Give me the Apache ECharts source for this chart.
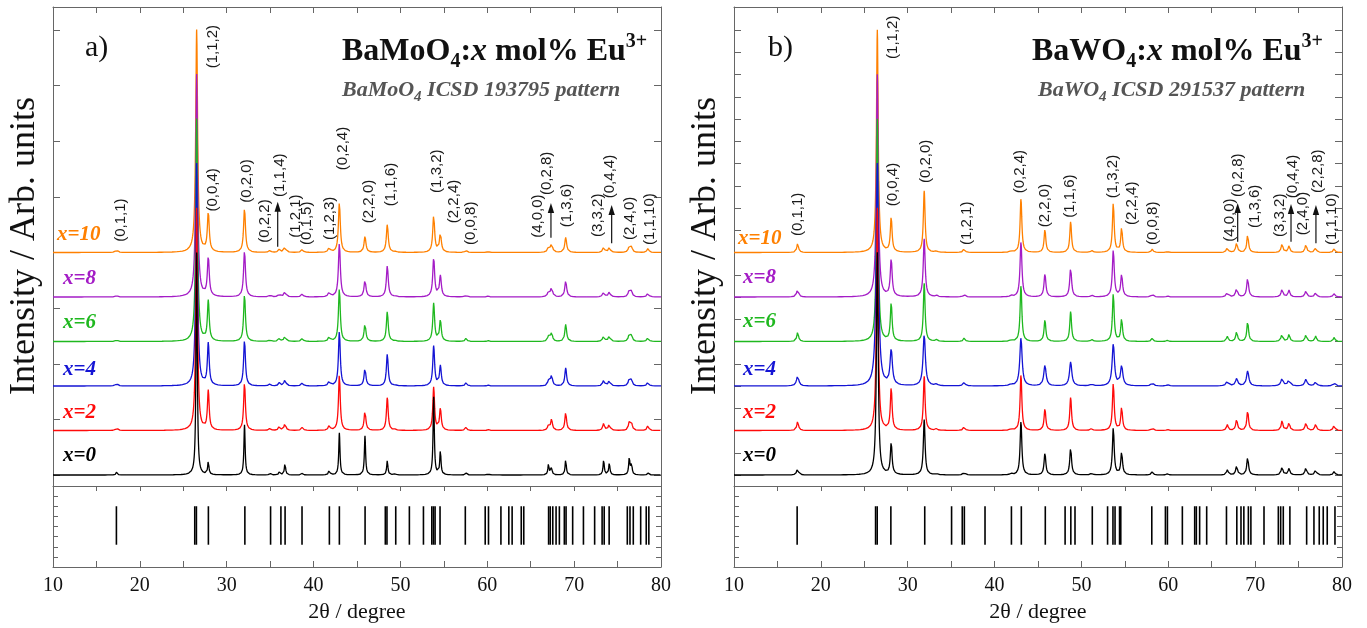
<!DOCTYPE html>
<html>
<head>
<meta charset="utf-8">
<script src="https://cdn.jsdelivr.net/npm/echarts@6/dist/echarts.min.js"></script>
<style>
  html, body { margin: 0; padding: 0; background: #ffffff; }
  #chart { width: 1367px; height: 628px; }
</style>
</head>
<body>
<div id="chart"></div>
<script>
// ---------- data ----------
const twoThetaMin = 10;
const twoThetaMax = 80;
const twoThetaTicks = [10, 20, 30, 40, 50, 60, 70, 80];

// samples, top trace first, with their vertical stacking offsets (Arb. units)
const samples = ['x=10', 'x=8', 'x=6', 'x=4', 'x=2', 'x=0'];
const sampleOffsets = [100, 80, 60, 40, 20, 0];

// BaMoO4:Eu3+ reflections (2θ, degree)
const moPeakPos = [17.33, 26.54, 27.88, 32.05, 34.98, 36.06, 36.71, 38.70, 41.81, 42.97, 45.92, 48.49, 49.40,
                   53.83, 54.60, 57.55, 60.10, 67.05, 67.40, 69.03, 73.40, 74.05, 76.35, 76.60, 78.50];
// relative peak intensities, (1,1,2) = 100
const moInt_x10 = [1.4, 100, 17.6, 19.8, 0.9, 1.4, 2.7, 1.4, 2.3, 22.5, 7.2, 12.6, 0.4, 16.7, 8.6, 0.9, 0.4, 2.3, 4.1, 6.8, 2.3, 2.3, 2.7, 2.3, 1.8];
const moInt_x8  = [0.7, 100, 17.6, 20.7, 0.9, 1.4, 2.7, 1.4, 2.3, 24.3, 7.7, 14.0, 0.4, 17.6, 9.5, 0.9, 0.4, 2.3, 4.5, 7.2, 2.3, 2.3, 3.2, 2.3, 1.8];
const moInt_x6  = [0.9, 100, 18.0, 21.2, 0.9, 1.4, 2.7, 1.4, 2.3, 23.9, 8.1, 13.5, 0.4, 17.1, 9.5, 1.4, 0.4, 2.3, 4.1, 7.7, 2.7, 2.7, 3.2, 2.7, 1.8];
const moInt_x4  = [1.4, 100, 18.9, 20.7, 0.9, 1.4, 3.0, 1.4, 2.3, 24.8, 8.1, 14.4, 0.4, 18.0, 9.0, 1.4, 0.4, 2.3, 5.0, 8.1, 2.7, 2.7, 3.2, 2.7, 1.8];
const moInt_x2  = [1.4, 100, 17.6, 21.6, 0.9, 1.8, 3.2, 1.4, 2.3, 25.2, 9.0, 14.9, 0.4, 19.4, 9.9, 1.4, 0.4, 2.3, 5.0, 8.1, 3.2, 3.2, 3.6, 3.2, 2.3];
const moInt_x0  = [1.4, 100, 6.1, 22.5, 0.9, 1.4, 5.4, 0.9, 2.5, 18.9, 17.6, 6.5, 0.9, 35.1, 11.0, 0.9, 0.9, 5.0, 3.2, 7.2, 6.8, 5.4, 7.7, 5.4, 0.9];
// peak widths (FWHM, degree) for each sample
const moFwhm = [0.26, 0.26, 0.25, 0.25, 0.24, 0.17];

// BaWO4:Eu3+ reflections (2θ, degree)
const wPeakPos = [17.33, 26.50, 28.10, 31.90, 33.30, 36.50, 41.90, 43.04, 45.80, 48.76, 51.17, 53.67, 54.63,
                  58.16, 59.90, 66.80, 67.87, 69.14, 73.10, 73.90, 75.85, 76.97, 79.10];
const wInt_x10 = [4.1, 100, 15.6, 27.7, 0.7, 1.8, 0.7, 24.3, 10.4, 13.8, 0.9, 22.3, 11.1, 1.5, 0.5, 2.4, 4.5, 8.2, 4.1, 3.0, 3.7, 2.3, 1.8];
const wInt_x8  = [3.7, 100, 16.7, 26.1, 0.7, 1.1, 0.7, 24.8, 10.4, 13.1, 0.9, 21.2, 10.0, 1.4, 0.5, 2.3, 4.1, 8.6, 3.6, 3.0, 2.8, 2.1, 1.5];
const wInt_x6  = [4.2, 100, 17.2, 26.1, 0.7, 1.5, 0.7, 25.2, 9.8, 13.5, 0.9, 21.6, 10.2, 1.4, 0.5, 2.3, 4.6, 9.1, 3.7, 3.2, 3.2, 2.4, 1.9];
const wInt_x4  = [4.5, 100, 15.8, 23.0, 0.7, 1.5, 0.7, 21.6, 9.3, 10.8, 0.9, 18.8, 8.9, 1.4, 0.5, 2.3, 3.3, 6.8, 3.3, 2.9, 3.0, 1.8, 1.4];
const wInt_x2  = [4.1, 100, 19.1, 24.3, 0.7, 1.8, 0.7, 25.1, 9.8, 14.9, 0.9, 21.3, 10.4, 1.4, 0.5, 2.6, 5.1, 9.0, 4.4, 3.6, 3.6, 2.9, 2.6];
const wInt_x0  = [3.2, 100, 14.2, 24.8, 0.7, 1.4, 0.7, 24.1, 9.9, 12.4, 0.9, 21.4, 10.2, 1.4, 0.5, 2.3, 4.2, 8.2, 3.7, 3.0, 3.4, 2.4, 1.6];
const wFwhm = [0.24, 0.26, 0.24, 0.32, 0.24, 0.24];

// ICSD reference line positions (2θ, degree)
const moIcsdLines = [17.30, 26.32, 26.51, 27.89, 32.09, 35.05, 36.24, 36.72, 38.67, 41.82, 42.97, 45.93, 48.26, 48.45,
                     49.46, 51.03, 52.65, 53.61, 53.80, 53.99, 54.56, 57.47, 59.76, 60.14, 61.57, 62.48, 62.86, 63.91,
                     64.20, 67.06, 67.25, 67.54, 67.92, 68.30, 68.87, 69.07, 69.83, 71.07, 72.36, 73.22, 73.46, 74.03,
                     76.12, 76.43, 76.81, 77.66, 78.30, 78.60];
const wIcsdLines = [17.27, 26.30, 26.49, 28.06, 31.96, 35.05, 36.28, 36.52, 38.90, 41.94, 43.08, 45.84, 48.12, 48.78,
                    49.26, 51.25, 53.01, 53.63, 53.87, 54.39, 54.53, 58.10, 59.67, 59.90, 61.62, 63.04, 63.23, 63.61,
                    64.42, 66.70, 67.89, 68.37, 68.70, 69.22, 69.51, 71.02, 72.67, 72.94, 73.24, 74.00, 75.93, 76.77,
                    77.38, 77.84, 78.30, 79.19];

// Miller index annotations: [text, 2θ, height (Arb. units) where the text starts]
const moHklLabels = [
  ['(0,1,1)', 17.79, 104.8], ['(1,1,2)', 28.36, 182.8], ['(0,0,4)', 28.45, 118.4], ['(0,2,0)', 32.30, 122.4],
  ['(0,2,2)', 34.41, 104.4], ['(1,1,4)', 36.13, 125.0], ['(1,2,1)', 37.98, 106.6], ['(0,1,5)', 39.21, 103.4],
  ['(1,2,3)', 41.89, 105.6], ['(0,2,4)', 43.33, 137.0], ['(2,2,0)', 46.38, 113.2], ['(1,1,6)', 48.91, 120.8],
  ['(1,3,2)', 54.21, 126.8], ['(2,2,4)', 56.17, 113.2], ['(0,0,8)', 58.12, 103.4], ['(4,0,0)', 65.84, 106.6],
  ['(0,2,8)', 66.87, 125.8], ['(1,3,6)', 69.14, 111.4], ['(3,3,2)', 72.75, 107.0], ['(0,4,4)', 74.13, 124.4],
  ['(2,4,0)', 76.43, 105.6], ['(1,1,10)', 78.73, 103.4]
];
const wHklLabels = [
  ['(0,1,1)', 17.40, 107.4], ['(1,1,2)', 28.34, 187.0], ['(0,0,4)', 28.34, 120.8], ['(0,2,0)', 32.08, 131.2],
  ['(1,2,1)', 36.79, 103.4], ['(0,2,4)', 42.93, 126.6], ['(2,2,0)', 45.81, 111.4], ['(1,1,6)', 48.68, 115.6],
  ['(1,3,2)', 53.67, 124.4], ['(2,2,4)', 55.79, 112.4], ['(0,0,8)', 58.27, 103.4], ['(4,0,0)', 67.10, 104.8],
  ['(0,2,8)', 68.06, 125.0], ['(1,3,6)', 69.98, 111.0], ['(3,3,2)', 72.86, 107.0], ['(0,4,4)', 74.39, 124.4],
  ['(2,4,0)', 75.54, 107.8], ['(2,2,8)', 77.27, 126.8], ['(1,1,10)', 78.81, 103.4]
];
// arrows pointing at weak reflections: [2θ, from, to]
const moArrows = [[35.87, 102.6, 122.8], [67.33, 106.6, 122.2], [74.32, 104.2, 121.4]];
const wArrows  = [[67.99, 104.8, 122.2], [74.13, 104.8, 121.8], [77.00, 104.2, 121.4]];

// ---------- styling ----------
const sampleColors = ['#ff8000', '#a41cc6', '#1fb81f', '#1414d4', '#ff0a0a', '#000000'];
const SERIF = '"Liberation Serif", "Times New Roman", serif';
const SANS = '"Liberation Sans", Arial, sans-serif';
const AXIS_COLOR = '#666666';
const MAIN_Y_MIN = -4.94, MAIN_Y_MAX = 210.34;
const STICK_LO = 2.2, STICK_HI = 6.0;

// Lorentzian profile built from a reflection table
function buildPattern(pos, inten, fwhm, offset) {
  const hw = fwhm / 2;
  const xs = [];
  for (let i = 0; i <= 2800; i++) xs.push(twoThetaMin + i * 0.025);
  pos.forEach(p => xs.push(p));
  xs.sort((a, b) => a - b);
  return xs.map(x => {
    let y = offset;
    for (let k = 0; k < pos.length; k++) {
      const d = (x - pos[k]) / hw;
      y += inten[k] / (1 + d * d);
    }
    return [x, y];
  });
}

function patternSeries(pos, intensities, fwhms, axisIdx) {
  return samples.map((s, i) => ({
    type: 'line', name: s, xAxisIndex: axisIdx, yAxisIndex: axisIdx,
    data: buildPattern(pos, intensities[i], fwhms[i], sampleOffsets[i]),
    showSymbol: false, symbol: 'none', silent: true, animation: false,
    lineStyle: { color: sampleColors[i], width: 1.3 }, itemStyle: { color: sampleColors[i] }, z: 2
  }));
}

function stickSeries(lines, axisIdx) {
  return {
    type: 'custom', xAxisIndex: axisIdx, yAxisIndex: axisIdx, silent: true, animation: false,
    data: lines.map(v => [v, STICK_HI]),
    renderItem(params, api) {
      const a = api.coord([api.value(0), STICK_LO]);
      const b = api.coord([api.value(0), STICK_HI]);
      return { type: 'line', shape: { x1: a[0], y1: a[1], x2: b[0], y2: b[1] },
               style: { stroke: '#000', lineWidth: 1.6 } };
    }
  };
}

function hklSeries(labels, axisIdx) {
  return {
    type: 'custom', xAxisIndex: axisIdx, yAxisIndex: axisIdx, silent: true, animation: false, z: 5,
    data: labels.map(l => [l[1], l[2]]),
    renderItem(params, api) {
      const p = api.coord([api.value(0), api.value(1)]);
      return { type: 'text', x: p[0], y: p[1], rotation: Math.PI / 2,
               style: { text: labels[params.dataIndex][0], font: '15px ' + SANS, fill: '#1a1a1a',
                        align: 'left', verticalAlign: 'middle' } };
    }
  };
}

function arrowSeries(arrows, axisIdx) {
  return {
    type: 'custom', xAxisIndex: axisIdx, yAxisIndex: axisIdx, silent: true, animation: false, z: 5,
    data: arrows,
    renderItem(params, api) {
      const x = api.value(0);
      const a = api.coord([x, api.value(1)]);
      const b = api.coord([x, api.value(2)]);
      return { type: 'group', children: [
        { type: 'line', shape: { x1: a[0], y1: a[1], x2: b[0], y2: b[1] + 8 },
          style: { stroke: '#111', lineWidth: 1.2 } },
        { type: 'polygon', shape: { points: [[b[0], b[1]], [b[0] - 3.2, b[1] + 10], [b[0] + 3.2, b[1] + 10]] },
          style: { fill: '#111' } }
      ] };
    }
  };
}

// ---------- axes ----------
const lineStyle = { color: AXIS_COLOR, width: 1 };
function xAxisDef(grid, position, opts) {
  return Object.assign({
    type: 'value', gridIndex: grid, position: position, min: twoThetaMin, max: twoThetaMax, interval: 5,
    axisLine: { show: true, onZero: false, lineStyle: lineStyle },
    axisTick: { show: true, inside: true, length: 6, lineStyle: lineStyle },
    axisLabel: { show: false }, splitLine: { show: false }
  }, opts || {});
}
function yAxisDef(grid, position, min, max, ticks, len) {
  return {
    type: 'value', gridIndex: grid, position: position, min: min, max: max,
    axisLine: { show: true, onZero: false, lineStyle: lineStyle },
    axisTick: { show: true, inside: true, length: len, customValues: ticks, lineStyle: lineStyle },
    axisLabel: { show: false }, splitLine: { show: false }
  };
}
const bottomLabelOpts = {
  axisLabel: {
    show: true, margin: 9, fontFamily: SERIF, fontSize: 20, color: '#111',
    showMinLabel: true, showMaxLabel: true,
    formatter: v => (twoThetaTicks.indexOf(v) >= 0 ? String(v) : '')
  }
};
const mainTicksMo = [0, 25, 50, 75, 100, 125, 150, 175, 200];
const mainTicksW = [];
for (let v = 0; v <= 200; v += 10) mainTicksW.push(v);
const stickTicks = [1, 2, 3, 4, 5, 6, 7];

const xAxes = [
  // panel a
  xAxisDef(0, 'bottom', { axisLine: { show: false }, axisTick: { show: false } }),
  xAxisDef(0, 'top'),
  xAxisDef(1, 'bottom', bottomLabelOpts),
  xAxisDef(1, 'top', { axisTick: { show: true, inside: true, length: 5, lineStyle: lineStyle } }),
  // panel b
  xAxisDef(2, 'bottom', { axisLine: { show: false }, axisTick: { show: false } }),
  xAxisDef(2, 'top'),
  xAxisDef(3, 'bottom', bottomLabelOpts),
  xAxisDef(3, 'top', { axisTick: { show: true, inside: true, length: 5, lineStyle: lineStyle } })
];
const yAxes = [
  yAxisDef(0, 'left', MAIN_Y_MIN, MAIN_Y_MAX, mainTicksMo, 7),
  yAxisDef(0, 'right', MAIN_Y_MIN, MAIN_Y_MAX, mainTicksMo, 7),
  yAxisDef(1, 'left', 0, 8, stickTicks, 5),
  yAxisDef(1, 'right', 0, 8, stickTicks, 5),
  yAxisDef(2, 'left', MAIN_Y_MIN, MAIN_Y_MAX, mainTicksW, 7),
  yAxisDef(2, 'right', MAIN_Y_MIN, MAIN_Y_MAX, mainTicksW, 7),
  yAxisDef(3, 'left', 0, 8, stickTicks, 5),
  yAxisDef(3, 'right', 0, 8, stickTicks, 5)
];
// axis pairs per grid: grid0 -> (0,0) main a, grid1 -> (2,2) lines a, grid2 -> (4,4) main b, grid3 -> (6,6) lines b

// ---------- text ----------
function txt(x, y, text, fontSize, opts) {
  return Object.assign({
    type: 'text', x: x, y: y, silent: true,
    style: Object.assign({ text: text, font: fontSize + 'px ' + SERIF, fill: '#111',
                           align: 'left', verticalAlign: 'middle' }, (opts && opts.style) || {})
  }, opts && opts.rotation !== undefined ? { rotation: opts.rotation } : {});
}
function titleRich(color, size, subSize) {
  return {
    m:   { fontFamily: SERIF, fontWeight: 'bold', fontSize: size, lineHeight: 40, fill: color },
    i:   { fontFamily: SERIF, fontWeight: 'bold', fontStyle: 'italic', fontSize: size, lineHeight: 40, fill: color },
    sub: { fontFamily: SERIF, fontWeight: 'bold', fontSize: subSize, lineHeight: subSize, verticalAlign: 'bottom', fill: color },
    sup: { fontFamily: SERIF, fontWeight: 'bold', fontSize: subSize, lineHeight: 16, verticalAlign: 'top', fill: color }
  };
}
function subRich(color) {
  return {
    i:   { fontFamily: SERIF, fontWeight: 'bold', fontStyle: 'italic', fontSize: 22, lineHeight: 30, fill: color },
    sub: { fontFamily: SERIF, fontWeight: 'bold', fontStyle: 'italic', fontSize: 15, lineHeight: 15, verticalAlign: 'bottom', fill: color }
  };
}
function richText(x, y, text, rich) {
  return { type: 'text', x: x, y: y, silent: true,
           style: { text: text, rich: rich, align: 'left', verticalAlign: 'middle' } };
}

const sampleLabelPosA = [[57, 235], [63, 279], [63, 323], [63, 370], [63, 413], [63, 456]];
const sampleLabelPosB = [[738, 239], [743, 278], [743, 322], [743, 370], [743, 413], [743, 456]];
function sampleLabels(pos) {
  return samples.map((s, i) => txt(pos[i][0], pos[i][1], s, 21,
    { style: { font: 'italic bold 21px ' + SERIF, fill: sampleColors[i] } }));
}

const graphics = [
  txt(85, 48, 'a)', 30),
  txt(768, 48, 'b)', 30),
  richText(342, 52, '{m|BaMoO}{sub|4}{m|:}{i|x}{m| mol% Eu}{sup|3+}', titleRich('#111', 32, 20)),
  richText(1032, 52, '{m|BaWO}{sub|4}{m|:}{i|x}{m| mol% Eu}{sup|3+}', titleRich('#111', 32, 20)),
  richText(342, 90, '{i|BaMoO}{sub|4}{i| ICSD 193795 pattern}', subRich('#555555')),
  richText(1038, 90, '{i|BaWO}{sub|4}{i| ICSD 291537 pattern}', subRich('#555555')),
  txt(357, 612, '2θ / degree', 22, { style: { align: 'center' } }),
  txt(1038, 612, '2θ / degree', 22, { style: { align: 'center' } }),
  txt(25, 246, 'Intensity / Arb. units', 36, { rotation: Math.PI / 2, style: { align: 'center' } }),
  txt(706, 246, 'Intensity / Arb. units', 36, { rotation: Math.PI / 2, style: { align: 'center' } })
].concat(sampleLabels(sampleLabelPosA), sampleLabels(sampleLabelPosB));

// ---------- chart ----------
const option = {
  animation: false,
  backgroundColor: '#ffffff',
  grid: [
    { left: 53, top: 7, width: 608, height: 479 },
    { left: 53, top: 486, width: 608, height: 81 },
    { left: 734, top: 7, width: 608, height: 479 },
    { left: 734, top: 486, width: 608, height: 81 }
  ],
  xAxis: xAxes,
  yAxis: yAxes,
  series: [].concat(
    patternSeries(moPeakPos, [moInt_x10, moInt_x8, moInt_x6, moInt_x4, moInt_x2, moInt_x0], moFwhm, 0),
    patternSeries(wPeakPos, [wInt_x10, wInt_x8, wInt_x6, wInt_x4, wInt_x2, wInt_x0], wFwhm, 4),
    [stickSeries(moIcsdLines, 2), stickSeries(wIcsdLines, 6),
     hklSeries(moHklLabels, 0), hklSeries(wHklLabels, 4),
     arrowSeries(moArrows, 0), arrowSeries(wArrows, 4)]
  ),
  graphic: graphics
};

const chart = echarts.init(document.getElementById('chart'), null, { renderer: 'canvas' });
chart.setOption(option);
</script>
</body>
</html>
